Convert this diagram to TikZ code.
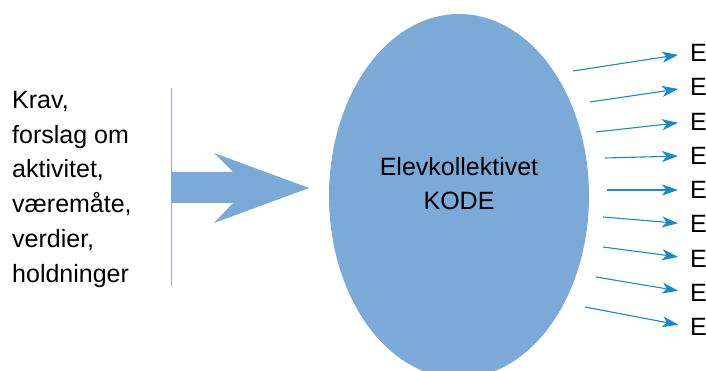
\documentclass[tikz,border=0pt]{standalone}
\usepackage{fontspec}
\setmainfont{Liberation Sans}
\usepackage{xcolor}
\usepackage{tikz}
\usetikzlibrary{calc}
\usetikzlibrary{arrows.meta}
\usetikzlibrary{shapes.geometric}
\definecolor{elevblaa}{RGB}{123,170,216}
\definecolor{pilblaa}{RGB}{24,138,204}
\definecolor{skillegraa}{RGB}{150,170,200}
\tikzset{
 kollektiv/.style = {ellipse, fill=elevblaa, inner sep=0, minimum width=260pt, minimum height=364pt},
 tekst/.style = {inner sep=0, font=\fontsize{25}{34.8}\selectfont},
 pil/.style = {pilblaa, line width=1.1pt, -{Stealth[length=16pt,width=11pt,inset=4.5pt]}, shorten >=12pt},
}

\begin{document}
\begin{tikzpicture} [x=1pt, y=-1pt]
\useasboundingbox (0,0) rectangle (706,371);
\node[tekst, align=left, anchor=north west] (krav) at (12,91) {Krav,\\forslag om\\aktivitet,\\v\ae rem\aa te,\\verdier,\\holdninger};
\draw[skillegraa, line width=1pt] (171,88) -- (171,286);
\fill[elevblaa] (171,172) -- (233,172) -- (214,153) -- (309,188) -- (214,223) -- (233,203) -- (171,203) -- cycle;
\node[kollektiv] (kode) at (459,196) {};
\node[tekst, align=center] (kodetekst) at ([yshift=12.5pt]kode.center) {Elevkollektivet\\KODE};
\foreach \sx/\sy [count=\i] in {573/71, 590/102, 596/132, 605/158, 607/190, 603/217, 603/247, 596/277, 585/307} {
 \node[tekst, anchor=west] (e\i) at (690, {53+34.25*(\i-1)}) {E};
 \coordinate (s\i) at (\sx,\sy);
 \draw[pil] (s\i) -- (e\i.west);
}
\end{tikzpicture}
\end{document}
